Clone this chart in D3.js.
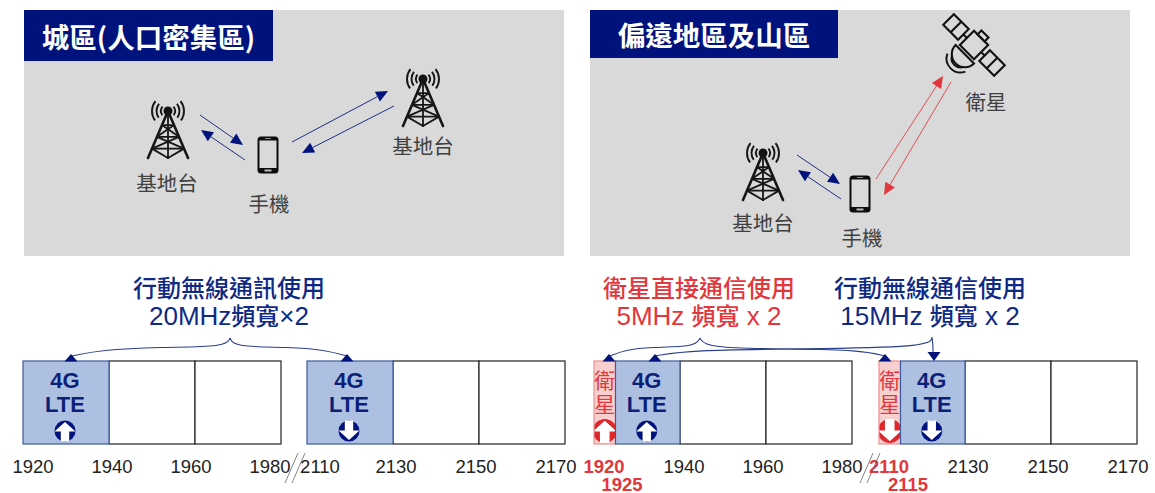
<!DOCTYPE html>
<html>
<head>
<meta charset="utf-8">
<script src="https://cdn.jsdelivr.net/npm/d3@7/dist/d3.min.js"></script>
<style>
html,body{margin:0;padding:0;background:#fff;}
svg{display:block;}
text{font-family:"Noto Sans CJK TC","Noto Sans",sans-serif;}
.mixed{font-family:"Liberation Sans","Noto Sans CJK TC",sans-serif;}
</style>
</head>
<body>
<svg id="chart" width="1155" height="493"></svg>
<script>
// Spectrum data in MHz
const uplinkEdges = [1920, 1940, 1960, 1980];
const downlinkEdges = [2110, 2130, 2150, 2170];
const sharedUplinkEdges = [1920, 1925, 1940, 1960, 1980];
const sharedDownlinkEdges = [2110, 2115, 2130, 2150, 2170];
const urbanUses = ["lte", "free", "free"];
const sharedUses = ["sat", "lte", "free", "free"];
const urbanTicks = [1920, 1940, 1960, 1980, 2110, 2130, 2150, 2170];
const sharedTicksPlain = [1940, 1960, 1980, 2130, 2150, 2170];
const sharedTicksRed = [1920, 1925, 2110, 2115];

const NAVY = "#00127c", TITLE_BLUE = "#0f2a85", RED = "#e2373c", GREY = "#d9d9d9", INK = "#404040";
const svg = d3.select("#chart");

// Each spectrum strip compresses the unused gap between 1980 and 2110 MHz.
const urbanX = d3.scaleLinear().domain([1920, 1980, 2110, 2170]).range([23, 281, 307, 565]);
const sharedX = d3.scaleLinear().domain([1920, 1980, 2110, 2170]).range([594, 852, 879, 1137]);
const urbanTickX = d3.scaleLinear().domain([1920, 1980, 2110, 2130, 2170]).range([33, 270, 320, 396, 556]);
const sharedTickX = d3.scaleLinear()
  .domain([1920, 1925, 1940, 1980, 2110, 2115, 2130, 2170])
  .range([604, 622, 684, 842, 889, 908, 968, 1128]);
const stripY = d3.scaleLinear().domain([0, 1]).range([361, 444]);

function label(g, x, y, str, size, fill, weight, anchor) {
  return g.append("text").attr("x", x).attr("y", y).attr("text-anchor", anchor || "middle")
    .attr("dominant-baseline", "central").attr("font-size", size).attr("font-weight", weight || 400)
    .attr("fill", fill).text(str);
}

// Caption line with Latin runs set larger than the Han text beside them
function captionLine(x, y, parts, fill) {
  const t = svg.append("text").attr("x", x).attr("y", y).attr("text-anchor", "middle")
    .attr("dominant-baseline", "central").attr("fill", fill).attr("class", "mixed");
  parts.forEach((p, i) => {
    t.append("tspan").attr("font-size", i % 2 ? 24 : 26).attr("font-weight", i % 2 ? 500 : 400).text(p);
  });
}

function panel(x, width, titleWidth, titleHeight, title) {
  const g = svg.append("g");
  g.append("rect").attr("x", x).attr("y", 10).attr("width", width).attr("height", 246).attr("fill", GREY);
  g.append("rect").attr("x", x).attr("y", 10).attr("width", titleWidth).attr("height", titleHeight).attr("fill", NAVY);
  label(g, x + titleWidth / 2, 10 + titleHeight / 2, title, 27.5, "#fff", 700);
}

// Lattice radio mast with signal arcs around its tip
function tower(cx, cy) {
  const g = svg.append("g").attr("transform", `translate(${cx},${cy})`)
    .attr("fill", "none").attr("stroke", "#161616").attr("stroke-linecap", "round");
  const arc = d3.arc();
  [7, 11.5, 16].forEach(r => {
    [[-2.2, -0.9], [0.9, 2.2]].forEach(([a, b]) => {
      g.append("path").attr("stroke-width", 1.9)
        .attr("d", arc({innerRadius: r, outerRadius: r, startAngle: a, endAngle: b}));
    });
  });
  g.append("circle").attr("r", 4.5).attr("fill", "#111").attr("stroke", "none");
  const w = 20, h = 47;
  const at = t => t * w;
  const lines = [
    [0, 0, -w, h], [0, 0, w, h],
    [-at(.3), h * .3, at(.55), h * .55], [at(.3), h * .3, -at(.55), h * .55],
    [-at(.55), h * .55, at(.8), h * .8], [at(.55), h * .55, -at(.8), h * .8],
    [-at(.8), h * .8, 0, h], [at(.8), h * .8, 0, h],
    [-at(.3), h * .3, at(.3), h * .3], [-at(.55), h * .55, at(.55), h * .55],
    [-at(.8), h * .8, at(.8), h * .8], [0, 0, 0, h]
  ];
  g.selectAll("line").data(lines).join("line")
    .attr("x1", d => d[0]).attr("y1", d => d[1]).attr("x2", d => d[2]).attr("y2", d => d[3])
    .attr("stroke-width", (d, i) => i < 2 ? 2.6 : 1.8);
}

function phone(cx, cy) {
  const g = svg.append("g").attr("transform", `translate(${cx},${cy})`);
  g.append("rect").attr("x", -10.5).attr("y", -18.5).attr("width", 21).attr("height", 37).attr("rx", 3.5).attr("fill", "#0c0c0c");
  g.append("rect").attr("x", -8.5).attr("y", -14.5).attr("width", 17).attr("height", 27.5).attr("fill", GREY);
  g.append("rect").attr("x", -3.5).attr("y", 14.5).attr("width", 7).attr("height", 2).attr("fill", "#bbb");
  g.append("rect").attr("x", -3).attr("y", -17).attr("width", 6).attr("height", 1).attr("fill", "#888");
}

// Outline satellite: body, two solar wings, dish and signal arcs
function satellite(cx, cy) {
  const g = svg.append("g").attr("transform", `translate(${cx},${cy}) rotate(45)`)
    .attr("fill", "none").attr("stroke", "#111").attr("stroke-width", 2.1);
  g.append("rect").attr("x", -10).attr("y", -10).attr("width", 20).attr("height", 20);
  [-1, 1].forEach(s => {
    g.append("rect").attr("x", s < 0 ? -36 : 15).attr("y", -7.5).attr("width", 21).attr("height", 15);
    g.append("line").attr("x1", s * 25.5).attr("x2", s * 25.5).attr("y1", -7.5).attr("y2", 7.5);
    g.append("line").attr("x1", s * 10).attr("x2", s * 15).attr("y1", 0).attr("y2", 0);
  });
  g.append("rect").attr("x", -5).attr("y", -15.5).attr("width", 10).attr("height", 5.5);
  g.append("path").attr("d", "M-13,13 A13,13 0 0 0 13,13 Z");
  const arc = d3.arc();
  [9, 14].forEach(r => {
    g.append("path").attr("transform", "translate(0,19)").attr("stroke-width", 1.9)
      .attr("d", arc({innerRadius: r, outerRadius: r, startAngle: Math.PI * 0.64, endAngle: Math.PI * 1.36}));
  });
}

// Straight link arrow with a filled triangular head
function link(x1, y1, x2, y2, color) {
  const g = svg.append("g");
  const ang = Math.atan2(y2 - y1, x2 - x1);
  const len = 12, hw = 5.5;
  const bx = x2 - len * Math.cos(ang), by = y2 - len * Math.sin(ang);
  g.append("line").attr("x1", x1).attr("y1", y1).attr("x2", bx).attr("y2", by)
    .attr("stroke", color).attr("stroke-width", 1).attr("opacity", .85);
  g.append("path").attr("fill", color).attr("d", d3.line()([
    [x2, y2],
    [bx + hw * Math.sin(ang), by - hw * Math.cos(ang)],
    [bx - hw * Math.sin(ang), by + hw * Math.cos(ang)]
  ]) + "Z");
}

// Circle badge with a white block arrow; dir -1 points up, +1 points down
function badge(g, cx, cy, r, dir, color, clipWidth) {
  const b = g.append("g").attr("transform", `translate(${cx},${cy})`);
  if (clipWidth) {
    const id = "clip" + Math.round(cx);
    b.append("clipPath").attr("id", id).append("rect")
      .attr("x", -clipWidth / 2).attr("y", -r - 1).attr("width", clipWidth).attr("height", 2 * r + 2);
    b.attr("clip-path", `url(#${id})`);
  }
  b.append("circle").attr("r", r).attr("fill", color);
  const s = r / 10;
  const pts = [[0, 8.5], [10, -0.5], [4, -0.5], [4, -10], [-4, -10], [-4, -0.5], [-10, -0.5]]
    .map(([x, y]) => [x * s, dir * y * s]);
  b.append("path").attr("fill", "#fff").attr("d", d3.line()(pts) + "Z");
}

function strip(edges, uses, x, dir) {
  const g = svg.append("g");
  const cells = d3.pairs(edges).map(([a, b], i) => ({a, b, use: uses[i]}));
  const fills = {free: "#fff", lte: "#adc0e1", sat: "#f8cfcf"};
  const strokes = {free: "#222", lte: "#3f5a9c", sat: "#ee8f90"};
  const order = cells.slice().sort((p, q) => (p.use === "lte") - (q.use === "lte"));
  g.selectAll("rect").data(order).join("rect")
    .attr("x", d => x(d.a)).attr("y", stripY(0))
    .attr("width", d => x(d.b) - x(d.a)).attr("height", stripY(1) - stripY(0))
    .attr("fill", d => fills[d.use]).attr("stroke", d => strokes[d.use]).attr("stroke-width", 1.2);
  cells.forEach(c => {
    const mid = (x(c.a) + x(c.b)) / 2;
    if (c.use === "lte") {
      label(g, mid - 1, 380, "4G", 22, "#0c1f78", 700).attr("class", "mixed");
      label(g, mid - 1, 404, "LTE", 22, "#0c1f78", 700).attr("class", "mixed");
      badge(g, mid - 1, 431, 10.5, dir, "#00127c");
    } else if (c.use === "sat") {
      label(g, mid, 379, "衛", 21, RED);
      label(g, mid, 403, "星", 21, RED);
      badge(g, mid, 431, 12, dir, "#e0282c", x(c.b) - x(c.a) - 1);
    }
  });
}

function ticks(values, x, y, fill, weight) {
  values.forEach(v => {
    label(svg, x(v), y, String(v), 18.5, fill, weight).attr("class", "mixed");
  });
}

function breakMark(x) {
  [0, 7].forEach(dx => svg.append("line")
    .attr("x1", x + dx).attr("y1", 483).attr("x2", x + dx + 13).attr("y2", 453)
    .attr("stroke", "#666").attr("stroke-width", 0.8));
}

// Brace: a curved lead from a peak to a bandwidth cell, ending in a small triangle
function lead(points, tip, down) {
  const curve = d3.line().curve(d3.curveBasis);
  svg.append("path").attr("d", curve(points)).attr("fill", "none").attr("stroke", "#2b3f8c").attr("stroke-width", 1.1);
  const [tx, ty] = tip;
  const head = down ? [[tx, ty], [tx - 6.5, ty - 9], [tx + 6.5, ty - 9]] : [[tx, ty], [tx - 6.5, ty + 7.5], [tx + 6.5, ty + 7.5]];
  svg.append("path").attr("fill", NAVY).attr("d", d3.line()(head) + "Z");
}

// Urban panel
panel(24, 540, 249, 51, "城區(人口密集區)");
tower(168, 111); tower(423, 79);
phone(268, 155);
label(svg, 167, 182, "基地台", 20.5, INK);
label(svg, 423, 145, "基地台", 20.5, INK);
label(svg, 269, 203, "手機", 20.5, INK);
link(200, 115, 243, 145, NAVY);
link(245, 160, 201, 130, NAVY);
link(292, 142, 388, 91, NAVY);
link(394, 106, 302, 153, NAVY);

// Remote panel
panel(590, 540, 248, 48, "偏遠地區及山區");
tower(763, 153);
phone(860, 194);
satellite(974, 45);
label(svg, 763, 222, "基地台", 20.5, INK);
label(svg, 862, 237, "手機", 20.5, INK);
label(svg, 986, 101, "衛星", 20.5, INK);
link(797, 155, 840, 184, NAVY);
link(841, 199, 798, 170, NAVY);
link(876, 179, 943, 76, RED);
link(951, 82, 884, 195, RED);

// Bandwidth captions
label(svg, 229, 286, "行動無線通訊使用", 24, TITLE_BLUE, 500);
captionLine(229, 316, ["20MHz", "頻寬", "×2"], TITLE_BLUE);
label(svg, 699, 286, "衛星直接通信使用", 24, RED, 500);
captionLine(699, 316, ["5MHz ", "頻寬", " x 2"], RED);
label(svg, 930, 286, "行動無線通信使用", 24, TITLE_BLUE, 500);
captionLine(930, 316, ["15MHz ", "頻寬", " x 2"], TITLE_BLUE);

// Spectrum strips
strip(uplinkEdges, urbanUses, urbanX, -1);
strip(downlinkEdges, urbanUses, urbanX, 1);
strip(sharedUplinkEdges, sharedUses, sharedX, -1);
strip(sharedDownlinkEdges, sharedUses, sharedX, 1);

// Leads from captions to cells
lead([[230, 338], [226, 347], [160, 347], [100, 350], [72, 356]], [71, 354]);
lead([[230, 338], [234, 347], [290, 347], [325, 350], [347, 356]], [347, 354]);
lead([[700, 338], [695, 347], [650, 347], [625, 350], [610, 356]], [609, 354]);
lead([[700, 338], [706, 348], [790, 349], [860, 350], [885, 356]], [885, 354]);
lead([[932, 338], [928, 347], [800, 349], [690, 350], [655, 356]], [655, 354]);
lead([[932, 337], [933, 345], [933, 354]], [934, 361], true);

// Frequency labels
ticks(urbanTicks, urbanTickX, 466, "#222", 400);
ticks(sharedTicksPlain, sharedTickX, 466, "#222", 400);
ticks(sharedTicksRed.filter(v => v % 10 === 0), sharedTickX, 466, RED, 700);
ticks(sharedTicksRed.filter(v => v % 10 !== 0), sharedTickX, 484, RED, 700);
breakMark(285);
breakMark(860);
</script>
</body>
</html>
